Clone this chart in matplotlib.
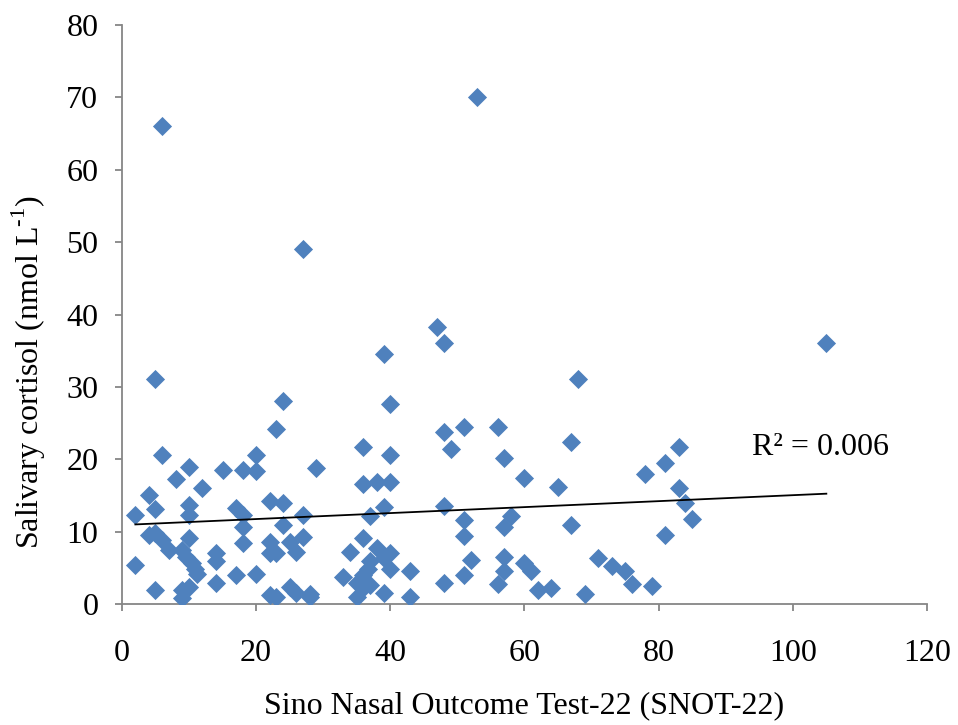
import numpy as np
import matplotlib
matplotlib.use("Agg")
import matplotlib.pyplot as plt

plt.rcParams["font.family"] = ["Liberation Serif", "DejaVu Serif"]
plt.rcParams["mathtext.fontset"] = "custom"
plt.rcParams["mathtext.rm"] = "Liberation Serif"

# SNOT-22 score per subject
snot22 = [
    2, 2, 4, 4, 5, 5, 5, 5, 6, 6, 6, 7, 8, 9, 9, 9, 9.6, 10.4, 10.9, 11.2,
    10, 10, 10, 10, 10, 12, 14, 14, 14, 15, 17, 17, 18, 18, 18, 18,
    20, 20, 20, 22, 22, 22, 22, 23, 23, 23, 24, 24, 24, 25, 25, 26, 26,
    27, 27, 27, 28, 28, 29, 33, 34, 35, 35, 36, 36, 36, 36, 36.7, 36,
    37, 37, 37, 38, 38, 39, 39, 39, 39, 40, 40, 40, 40, 40, 43, 43,
    47, 48, 48, 48, 48, 49, 51, 51, 51, 51, 52, 53, 56, 56, 57, 57, 57, 57,
    58, 60, 60, 61, 62, 64, 65, 67, 67, 68, 69, 71, 73, 75, 76, 78, 79,
    81, 81, 83, 83, 84, 85, 105,
]

# Salivary cortisol (nmol/L) per subject
cortisol = [
    12.3, 5.4, 15.1, 9.5, 31.1, 13.1, 9.8, 2.0, 66.0, 20.6, 8.8, 7.5, 17.3, 7.5, 2.0, 0.8, 6.5, 5.6, 4.9, 4.2,
    18.9, 13.7, 12.3, 9.1, 2.4, 16.0, 7.0, 5.9, 2.9, 18.5, 13.2, 4.0, 18.5, 12.3, 10.7, 8.4,
    20.6, 18.4, 4.1, 14.3, 8.6, 7.0, 1.2, 24.2, 7.0, 1.0, 28.0, 14.0, 10.9, 8.5, 2.4, 7.2, 1.5,
    49.0, 12.3, 9.3, 1.4, 0.9, 18.8, 3.7, 7.2, 2.9, 0.9, 21.7, 16.6, 9.1, 4.0, 4.9, 2.2,
    12.1, 5.9, 2.6, 16.9, 7.7, 34.5, 13.4, 6.3, 1.5, 27.6, 20.6, 16.9, 7.0, 4.9, 4.5, 1.0,
    38.3, 36.1, 23.8, 13.5, 2.9, 21.4, 24.4, 11.6, 9.4, 4.0, 6.1, 70.0, 24.4, 2.7, 20.2, 10.7, 6.5, 4.5,
    12.2, 17.4, 5.6, 4.5, 1.9, 2.2, 16.1, 22.4, 10.9, 31.1, 1.4, 6.4, 5.3, 4.5, 2.8, 18.0, 2.5,
    19.5, 9.5, 21.7, 16.0, 14.0, 11.8, 36.0,
]

x_ticks = [0, 20, 40, 60, 80, 100, 120]
y_ticks = [0, 10, 20, 30, 40, 50, 60, 70, 80]
r_squared = 0.006

x = np.asarray(snot22, dtype=float)
y = np.asarray(cortisol, dtype=float)

fs = 23

fig = plt.figure(figsize=(9.58, 7.25), dpi=100)
ax = fig.add_axes([0.1273, 0.1669, 0.8403, 0.7986])

ax.scatter(x, y, marker="D", s=95, color="#4F81BD", linewidths=0, zorder=3)

# Linear trend line over the observed range
slope, intercept = np.polyfit(x, y, 1)
xs = np.array([x.min(), x.max()])
ax.plot(xs, intercept + slope * xs, color="black", lw=1.3, zorder=4)

ax.text(93.9, 21.6, f"R\u00b2 = {r_squared:.3f}", fontsize=fs, ha="left", va="center")

ax.set_xlim(0, 120)
ax.set_ylim(0, 80)
ax.set_xticks(x_ticks)
ax.set_yticks(y_ticks)

for side in ("top", "right"):
    ax.spines[side].set_visible(False)
for side in ("left", "bottom"):
    ax.spines[side].set_color("#868686")
    ax.spines[side].set_linewidth(1.3)

ax.tick_params(axis="both", direction="out", length=5, width=1.3, color="#868686",
               labelsize=fs, labelcolor="black")
ax.tick_params(axis="x", pad=20)
ax.tick_params(axis="y", pad=12)

ax.set_xlabel("Sino Nasal Outcome Test-22 (SNOT-22)", fontsize=fs, labelpad=17)
ax.set_ylabel(r"Salivary cortisol (nmol L$^{\text{-1}}$)", fontsize=fs)
ax.yaxis.set_label_coords(-0.092, 0.40)

fig.savefig("out.png", dpi=100, facecolor="white")
